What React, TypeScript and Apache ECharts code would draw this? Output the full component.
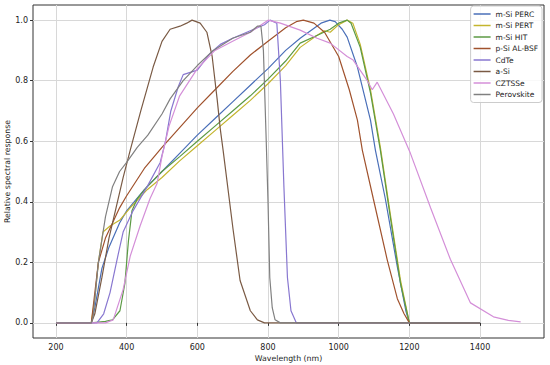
import React, { useEffect, useRef } from "react";
import * as echarts from "echarts";

const seriesNames = ["m-Si PERC", "m-Si PERT", "m-Si HIT", "p-Si AL-BSF", "CdTe", "a-Si", "CZTSSe", "Perovskite"];
const seriesColors = ["#4a6fb8", "#c4b52e", "#5c9a45", "#a0522d", "#8877d0", "#7a5a44", "#d48fd8", "#808080"];

const xTicks = [200, 400, 600, 800, 1000, 1200, 1400];
const yTicks = [0, 0.2, 0.4, 0.6, 0.8, 1.0];

const percData = [[200, 0], [300, 0], [310, 0.05], [330, 0.18], [350, 0.25], [380, 0.33], [400, 0.37], [450, 0.44], [500, 0.5], [550, 0.56], [600, 0.62], [650, 0.675], [700, 0.73], [750, 0.785], [800, 0.84], [850, 0.9], [891, 0.94], [950, 0.99], [975, 1.0], [990, 0.995], [1010, 0.97], [1024, 0.944], [1053, 0.845], [1090, 0.67], [1104, 0.57], [1132, 0.41], [1166, 0.185], [1190, 0.04], [1200, 0], [1400, 0]];
const pertData = [[200, 0], [300, 0], [310, 0.08], [320, 0.2], [333, 0.3], [353, 0.32], [381, 0.34], [410, 0.38], [458, 0.44], [500, 0.48], [550, 0.535], [600, 0.585], [650, 0.635], [700, 0.685], [750, 0.735], [800, 0.79], [850, 0.85], [891, 0.91], [939, 0.95], [960, 0.965], [976, 0.96], [1000, 0.985], [1024, 1.0], [1040, 0.99], [1061, 0.92], [1090, 0.77], [1118, 0.58], [1146, 0.36], [1175, 0.14], [1200, 0], [1400, 0]];
const hitData = [[200, 0], [300, 0], [340, 0.005], [360, 0.01], [381, 0.04], [395, 0.13], [405, 0.27], [415, 0.37], [430, 0.41], [458, 0.45], [500, 0.5], [551, 0.55], [600, 0.6], [650, 0.65], [700, 0.7], [750, 0.75], [800, 0.805], [850, 0.865], [891, 0.924], [940, 0.95], [976, 0.97], [1000, 0.99], [1024, 1.0], [1035, 0.99], [1061, 0.91], [1090, 0.76], [1118, 0.57], [1146, 0.35], [1175, 0.13], [1200, 0], [1400, 0]];
const alBsfData = [[200, 0], [300, 0], [310, 0.1], [320, 0.2], [340, 0.28], [360, 0.33], [380, 0.38], [400, 0.42], [450, 0.51], [500, 0.58], [550, 0.645], [600, 0.71], [650, 0.77], [700, 0.83], [750, 0.885], [800, 0.93], [850, 0.975], [880, 0.995], [900, 1.0], [930, 0.99], [960, 0.96], [1000, 0.88], [1030, 0.77], [1053, 0.67], [1067, 0.57], [1098, 0.41], [1137, 0.21], [1166, 0.08], [1185, 0.03], [1200, 0], [1400, 0]];
const cdteData = [[200, 0], [316, 0], [335, 0.03], [353, 0.1], [373, 0.21], [390, 0.3], [418, 0.37], [458, 0.45], [495, 0.53], [510, 0.6], [525, 0.7], [546, 0.78], [560, 0.82], [600, 0.835], [636, 0.89], [665, 0.92], [700, 0.94], [750, 0.965], [790, 0.985], [806, 1.0], [825, 0.99], [835, 0.8], [845, 0.45], [855, 0.15], [865, 0.04], [880, 0], [1400, 0]];
const aSiData = [[200, 0], [300, 0], [310, 0.03], [330, 0.15], [350, 0.28], [370, 0.38], [390, 0.48], [410, 0.57], [440, 0.7], [475, 0.845], [500, 0.93], [523, 0.97], [551, 0.98], [570, 0.99], [585, 1.0], [608, 0.99], [627, 0.96], [642, 0.88], [656, 0.74], [665, 0.64], [673, 0.57], [701, 0.31], [721, 0.14], [750, 0.04], [770, 0.01], [790, 0], [1400, 0]];
const cztsseData = [[200, 0], [340, 0], [362, 0.01], [390, 0.11], [410, 0.22], [438, 0.32], [466, 0.41], [486, 0.46], [500, 0.55], [520, 0.65], [550, 0.75], [600, 0.84], [650, 0.9], [700, 0.93], [750, 0.96], [800, 1.0], [835, 0.99], [891, 0.967], [939, 0.94], [976, 0.924], [1024, 0.88], [1041, 0.868], [1081, 0.8], [1095, 0.77], [1109, 0.795], [1155, 0.69], [1203, 0.56], [1260, 0.38], [1316, 0.21], [1373, 0.066], [1438, 0.02], [1480, 0.008], [1515, 0.003]];
const perovskiteData = [[200, 0], [300, 0], [305, 0.02], [320, 0.2], [340, 0.35], [360, 0.45], [380, 0.5], [400, 0.53], [430, 0.58], [460, 0.62], [500, 0.69], [523, 0.74], [560, 0.8], [600, 0.85], [645, 0.9], [700, 0.94], [712, 0.945], [750, 0.96], [770, 0.98], [780, 0.98], [787, 0.9], [795, 0.6], [800, 0.4], [805, 0.15], [812, 0.05], [820, 0.01], [835, 0], [1400, 0]];

const allData = [percData, pertData, hitData, alBsfData, cdteData, aSiData, cztsseData, perovskiteData];

const FONT = "DejaVu Sans";

export default function App() {
  const ref = useRef<HTMLDivElement>(null);
  useEffect(() => {
    if (!ref.current) return;
    const chart = echarts.init(ref.current, null, { renderer: "svg" });
    chart.setOption({
      animation: false,
      backgroundColor: "#ffffff",
      textStyle: { fontFamily: FONT },
      grid: { left: 33, right: 6, top: 5, bottom: 27, containLabel: false, outerBoundsMode: "none", show: true, borderColor: "#333333", borderWidth: 1 },
      legend: {
        data: seriesNames,
        orient: "vertical",
        right: 8,
        top: 6,
        icon: "rect",
        itemWidth: 17,
        itemHeight: 1.5,
        itemGap: 3.5,
        itemTextGap: 6,
        padding: [4, 4, 4, 3],
        borderColor: "#cccccc",
        borderWidth: 1,
        borderRadius: 3,
        backgroundColor: "rgba(255,255,255,0.85)",
        textStyle: { fontFamily: FONT, fontSize: 7.5, color: "#222222" },
      },
      xAxis: {
        type: "value",
        min: 135,
        max: 1581,
        name: "Wavelength (nm)",
        nameLocation: "middle",
        nameGap: 16,
        nameMoveOverlap: false,
        nameTextStyle: { fontFamily: FONT, fontSize: 7.8, color: "#222222" },
        axisLine: { show: false },
        axisTick: { show: true, customValues: xTicks, length: 3, lineStyle: { color: "#333333" } },
        axisLabel: { customValues: xTicks, fontFamily: FONT, fontSize: 8, color: "#222222", margin: 5, formatter: (v: number) => String(v) },
        splitLine: { show: true, lineStyle: { color: "#d8d8d8", width: 1 } },
      },
      yAxis: {
        type: "value",
        min: -0.05,
        max: 1.05,
        name: "Relative spectral response",
        nameLocation: "middle",
        nameGap: 22,
        nameMoveOverlap: false,
        nameTextStyle: { fontFamily: FONT, fontSize: 7.8, color: "#222222" },
        axisLine: { show: false },
        axisTick: { show: true, customValues: yTicks, length: 3, lineStyle: { color: "#333333" } },
        axisLabel: { customValues: yTicks, fontFamily: FONT, fontSize: 8, color: "#222222", margin: 5, formatter: (v: number) => v.toFixed(1) },
        splitLine: { show: true, lineStyle: { color: "#d8d8d8", width: 1 } },
      },
      series: seriesNames.map((name, i) => ({
        name,
        type: "line",
        data: allData[i],
        showSymbol: false,
        symbol: "none",
        lineStyle: { width: 1.2, color: seriesColors[i] },
        itemStyle: { color: seriesColors[i] },
        z: 2,
      })),
    });
    return () => chart.dispose();
  }, []);
  return <div ref={ref} style={{ position: "fixed", left: 0, top: 0, width: 550, height: 365 }} />;
}
